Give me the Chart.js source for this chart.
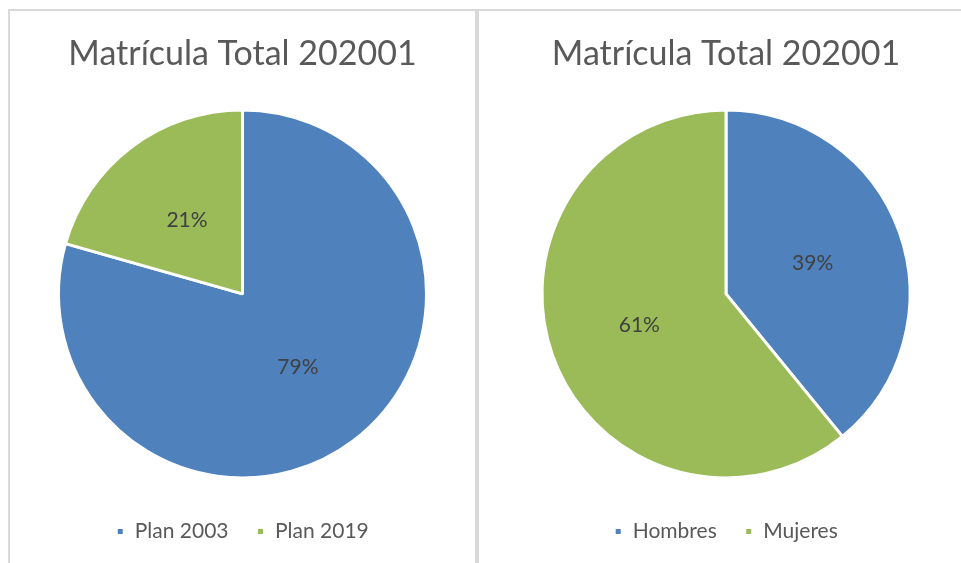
<!DOCTYPE html>
<html>
<head>
<meta charset="utf-8">
<script src="https://cdn.jsdelivr.net/npm/chart.js@4.4.0/dist/chart.umd.min.js"></script>
<style>
    html, body { margin: 0; padding: 0; background: #fff; overflow: hidden; }
    body { width: 961px; height: 563px; position: relative; }
    .panel { position: absolute; top: 9px; height: 560px; border-top: 2px solid #d9d9d9; border-left: 2px solid #d9d9d9; box-sizing: border-box; }
    .left { left: 8px; width: 469px; border-right: 2px solid #d9d9d9; }
    .right { left: 477px; width: 500px; }
    .box { position: absolute; left: 0; top: 0; height: 552px; }
    .left .box { width: 465px; }
    .right .box { width: 494px; }
</style>
</head>
<body>
<div class="panel left"><div class="box"><canvas class="plan-chart"></canvas></div></div>
<div class="panel right"><div class="box"><canvas class="sexo-chart"></canvas></div></div>
<script>
const ctx = document.querySelector('.plan-chart');
const ctx2 = document.querySelector('.sexo-chart');

const chartTitle = 'Matrícula Total 202001';
const planLabels = ['Plan 2003', 'Plan 2019'];
const planValues = [79.4, 20.6];
const sexoLabels = ['Hombres', 'Mujeres'];
const sexoValues = [39.1, 60.9];
const colors = ['#4f81bd', '#9bbb59'];

// percent labels inside the slices
const pctLabels = {
    id: 'pctLabels',
    afterDatasetsDraw(chart) {
        const c = chart.ctx;
        const meta = chart.getDatasetMeta(0);
        const vals = chart.data.datasets[0].data;
        const total = vals.reduce((a, b) => a + b, 0);
        c.save();
        c.font = '21px Lato';
        c.fillStyle = '#404040';
        c.textAlign = 'center';
        c.textBaseline = 'middle';
        meta.data.forEach((arc, i) => {
            const p = arc.getProps(['x', 'y', 'startAngle', 'endAngle', 'outerRadius'], true);
            const mid = (p.startAngle + p.endAngle) / 2;
            const r = p.outerRadius * 0.5;
            c.fillText(Math.round(vals[i] / total * 100) + '%', p.x + Math.cos(mid) * r, p.y + Math.sin(mid) * r);
        });
        c.restore();
    }
};

function pieOptions() {
    return {
        responsive: true,
        maintainAspectRatio: false,
        animation: false,
        layout: {
            padding: { bottom: 11 }
        },
        plugins: {
            title: {
                display: true,
                text: chartTitle,
                color: '#595959',
                font: { family: 'Lato', size: 34, weight: 'normal' },
                padding: { top: 23, bottom: 20 }
            },
            legend: {
                position: 'bottom',
                labels: {
                    boxWidth: 8,
                    boxHeight: 8,
                    padding: 28,
                    color: '#595959',
                    font: { family: 'Lato', size: 21 }
                }
            },
            tooltip: { enabled: false }
        }
    };
}

new Chart(ctx, {
    type: 'pie',
    data: {
        labels: planLabels,
        datasets: [{
            data: planValues,
            backgroundColor: colors,
            borderColor: '#ffffff',
            borderWidth: 3,
            radius: 184
        }]
    },
    options: pieOptions(),
    plugins: [pctLabels]
});

new Chart(ctx2, {
    type: 'pie',
    data: {
        labels: sexoLabels,
        datasets: [{
            data: sexoValues,
            backgroundColor: colors,
            borderColor: '#ffffff',
            borderWidth: 3,
            radius: 184
        }]
    },
    options: pieOptions(),
    plugins: [pctLabels]
});
</script>
</body>
</html>
